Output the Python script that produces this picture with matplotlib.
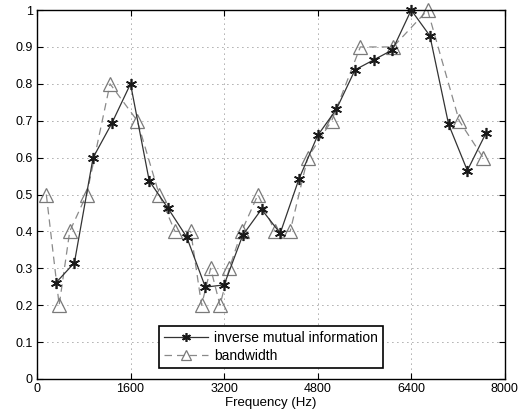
import matplotlib
matplotlib.use("Agg")
import matplotlib.pyplot as plt

plt.rcParams['font.family'] = ['Liberation Sans', 'DejaVu Sans']

imi_x = [320, 640, 960, 1280, 1600, 1920, 2240, 2560, 2880, 3200, 3520, 3840,
         4160, 4480, 4800, 5120, 5440, 5760, 6080, 6400, 6720, 7040, 7360, 7680]
imi_y = [0.26, 0.315, 0.60, 0.693, 0.80, 0.537, 0.463, 0.385, 0.249, 0.255, 0.39, 0.46,
         0.395, 0.542, 0.66, 0.731, 0.838, 0.865, 0.892, 1.0, 0.93, 0.69, 0.565, 0.667]

bw_x = [160, 380, 560, 850, 1250, 1715, 2090, 2360, 2630, 2815, 2970, 3130,
        3290, 3500, 3780, 4070, 4330, 4630, 5040, 5530, 6090, 6680, 7220, 7630]
bw_y = [0.5, 0.2, 0.4, 0.5, 0.8, 0.7, 0.5, 0.4, 0.4, 0.2, 0.3, 0.2,
        0.3, 0.4, 0.5, 0.4, 0.4, 0.6, 0.7, 0.9, 0.9, 1.0, 0.7, 0.6]

xticks = [0, 1600, 3200, 4800, 6400, 8000]
yticks = [0, 0.1, 0.2, 0.3, 0.4, 0.5, 0.6, 0.7, 0.8, 0.9, 1]
ytick_labels = ['0', '0.1', '0.2', '0.3', '0.4', '0.5', '0.6', '0.7', '0.8', '0.9', '1']

fig = plt.figure(figsize=(5.28, 4.19), dpi=100)
ax = fig.add_axes([0.070, 0.0955, 0.886, 0.8805])

ax.plot(imi_x, imi_y, '-', color='#333333', lw=0.9, marker=(6, 2, 0), ms=8,
        mec='#1a1a1a', mew=1.2, label='inverse mutual information', clip_on=False, zorder=3)
ax.plot(bw_x, bw_y, '--', color='#8a8a8a', lw=0.9, dashes=(6, 4), marker='^', ms=9.5,
        mfc='none', mec='#7a7a7a', mew=0.9, label='bandwidth', clip_on=False, zorder=2)

ax.set_xlim(0, 8000)
ax.set_ylim(0, 1)
ax.set_xticks(xticks)
ax.set_xticklabels([str(t) for t in xticks])
ax.set_yticks(yticks)
ax.set_yticklabels(ytick_labels)
ax.tick_params(direction='in', top=True, right=True, labelsize=9, length=4, width=0.8, pad=3)
ax.grid(True, linestyle=(0, (1, 5)), color='#555555', linewidth=0.6)
for s in ax.spines.values():
    s.set_linewidth(1.0)
    s.set_color('black')
ax.set_xlabel('Frequency (Hz)', fontsize=9.5, labelpad=1)

leg = ax.legend(loc='lower center', bbox_to_anchor=(0.5, 0.03), borderaxespad=0,
                fontsize=10, frameon=True, fancybox=False, framealpha=1, edgecolor='black',
                handlelength=3.2, borderpad=0.35, labelspacing=0.3, handletextpad=0.4,
                markerscale=0.8)
leg.get_frame().set_linewidth(1.2)

fig.savefig('out.png', dpi=100)
